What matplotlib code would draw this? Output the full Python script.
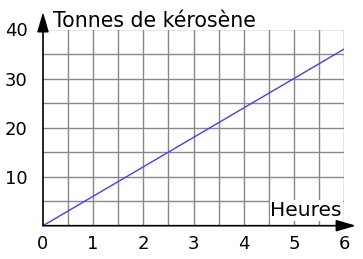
import numpy as np
import matplotlib
matplotlib.use('Agg')
import matplotlib.pyplot as plt

# Data
heures = [0, 6]
tonnes = [0, 36]
x_ticks = [0, 1, 2, 3, 4, 5, 6]
y_ticks = [10, 20, 30, 40]

fig = plt.figure(figsize=(3.63, 2.59), dpi=100)
ax = fig.add_axes([43 / 363, 1 - 225.7 / 259, 301 / 363, 196.2 / 259])

# Grid every 0.5 h and every 5 t
for gx in np.arange(0.5, 6.01, 0.5):
    ax.axvline(gx, color='#888888', linewidth=1.0, zorder=1)
for gy in np.arange(5, 40.01, 5):
    ax.axhline(gy, color='#888888', linewidth=1.0, zorder=1)

ax.plot(heures, tonnes, color='#4040ff', linewidth=1.0, zorder=3)

ax.set_xlim(0, 6)
ax.set_ylim(0, 40)
ax.set_xticks(x_ticks)
ax.set_yticks(y_ticks)
ax.tick_params(axis='both', which='both', length=0, labelsize=13)
ax.tick_params(axis='x', pad=7)
ax.tick_params(axis='y', pad=11)

for s in ['top', 'right', 'left', 'bottom']:
    ax.spines[s].set_visible(False)

# Axes drawn as arrows
style = '-|>,head_length=1.2,head_width=0.35'
ax.annotate('', xy=(0, 1.089), xytext=(0, 0), xycoords='axes fraction',
            arrowprops=dict(arrowstyle=style, color='black', lw=1.2,
                            shrinkA=0, shrinkB=0),
            annotation_clip=False, zorder=4)
ax.annotate('', xy=(1.04, 0), xytext=(0, 0), xycoords='axes fraction',
            arrowprops=dict(arrowstyle=style, color='black', lw=1.2,
                            shrinkA=0, shrinkB=0),
            annotation_clip=False, zorder=4)

# Axis labels
ax.text(0.2, 40.5, 'Tonnes de kérosène', fontsize=14.8, ha='left', va='baseline',
        clip_on=False)
ax.text(5.96, 1.98, 'Heures', fontsize=14.5, ha='right', va='baseline',
        bbox=dict(facecolor='white', edgecolor='none', pad=0.5), zorder=3.5)

plt.savefig('out.png', dpi=100)
